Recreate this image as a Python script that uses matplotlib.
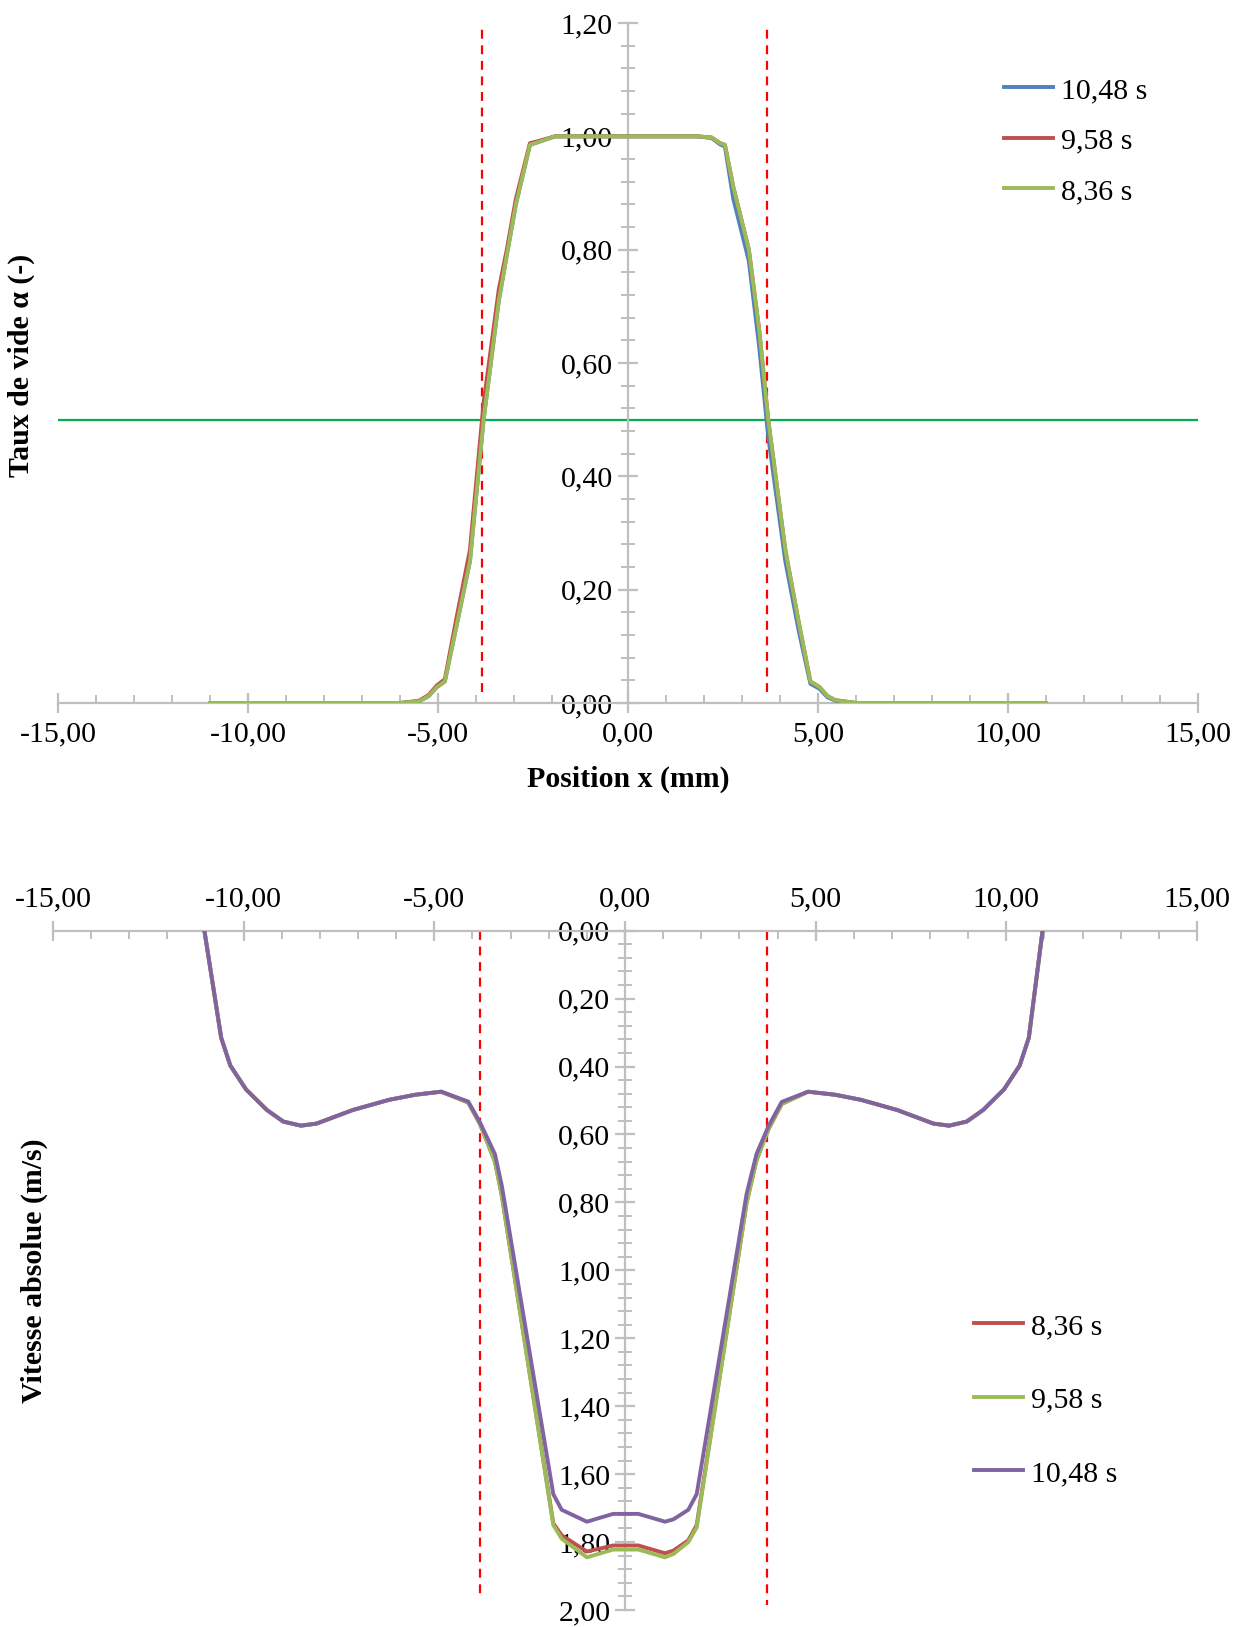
import numpy as np
import matplotlib
matplotlib.use("Agg")
import matplotlib.pyplot as plt
from matplotlib.ticker import MultipleLocator, FuncFormatter

plt.rcParams['font.family'] = ['Liberation Serif', 'DejaVu Serif']
FS = 21.5
plt.rcParams['font.size'] = FS

# --- top chart: void fraction ---
x_top = [-11.0, -6.0, -5.5, -5.25, -5.03, -4.82, -4.5, -4.16, -3.8, -3.4, -3.19, -2.95,
         -2.58, -2.4, -1.92, 1.81, 2.2, 2.42, 2.55, 2.77, 3.18, 3.45, 3.69, 4.14, 4.5,
         4.8, 5.04, 5.25, 5.46, 6.0, 11.0]
alpha_1048 = [0, 0, 0.003, 0.012, 0.028, 0.038, 0.14, 0.25, 0.50, 0.71, 0.79, 0.88,
              0.985, 0.989, 1.0, 1.0, 0.997, 0.986, 0.982, 0.89, 0.78, 0.63, 0.47, 0.25, 0.125,
              0.034, 0.025, 0.010, 0.004, 0, 0]
alpha_958 = [0, 0, 0.004, 0.014, 0.031, 0.042, 0.155, 0.27, 0.53, 0.73, 0.80, 0.89,
             0.988, 0.991, 1.0, 1.0, 0.998, 0.988, 0.985, 0.911, 0.80, 0.66, 0.50, 0.27, 0.14,
             0.038, 0.028, 0.012, 0.005, 0, 0]
alpha_836 = [0, 0, 0.003, 0.012, 0.028, 0.038, 0.14, 0.25, 0.50, 0.71, 0.79, 0.88,
             0.985, 0.989, 1.0, 1.0, 0.998, 0.988, 0.985, 0.911, 0.80, 0.66, 0.50, 0.27, 0.14,
             0.038, 0.028, 0.012, 0.005, 0, 0]

# --- bottom chart: absolute velocity ---
x_bot = [-11.03, -10.59, -10.35, -9.94, -9.39, -8.96, -8.5, -8.09, -7.14, -6.19, -5.5,
         -4.82, -4.11, -3.80, -3.41, -3.23, -1.88, -1.66, -1.0, -0.31, 0.35, 1.05, 1.27,
         1.66, 1.88, 3.19, 3.45, 3.76, 4.11, 4.8, 5.51, 6.19, 7.14, 8.09, 8.5, 8.96, 9.39,
         9.94, 10.35, 10.59, 10.95]
v_836 = [0, 0.315, 0.397, 0.467, 0.528, 0.562, 0.574, 0.568, 0.528, 0.498, 0.483,
         0.474, 0.506, 0.57, 0.68, 0.78, 1.745, 1.78, 1.828, 1.81, 1.81, 1.833, 1.825,
         1.795, 1.75, 0.80, 0.675, 0.585, 0.51, 0.474, 0.483, 0.498, 0.528, 0.568, 0.574,
         0.562, 0.528, 0.467, 0.397, 0.315, 0]
v_958 = [0, 0.315, 0.397, 0.467, 0.528, 0.562, 0.574, 0.568, 0.528, 0.498, 0.483,
         0.474, 0.506, 0.57, 0.68, 0.78, 1.75, 1.79, 1.845, 1.822, 1.822, 1.845, 1.835,
         1.80, 1.757, 0.80, 0.675, 0.585, 0.51, 0.474, 0.483, 0.498, 0.528, 0.568, 0.574,
         0.562, 0.528, 0.467, 0.397, 0.315, 0]
v_1048 = [0, 0.315, 0.397, 0.467, 0.528, 0.562, 0.574, 0.568, 0.528, 0.498, 0.483,
          0.474, 0.503, 0.565, 0.658, 0.751, 1.659, 1.705, 1.740, 1.717, 1.717, 1.740, 1.733,
          1.705, 1.659, 0.774, 0.657, 0.576, 0.504, 0.474, 0.483, 0.498, 0.528, 0.568, 0.574,
          0.562, 0.528, 0.467, 0.397, 0.315, 0]

top_markers = [-3.83, 3.66]
bot_markers = [(-3.79, 1.955), (3.72, 1.985)]

BLUE, RED, GREEN, PURPLE = '#4F81BD', '#C0504D', '#9BBB59', '#8064A2'
GREY = '#BFBFBF'
W, H = 1242, 1627
LW = 2.8

comma = FuncFormatter(lambda v, p: f"{v:.2f}".replace('.', ','))


def style_axes(ax):
    for s in ax.spines.values():
        s.set_color(GREY)
        s.set_linewidth(1.6)
    ax.spines['left'].set_position(('data', 0))
    ax.spines['right'].set_visible(False)
    ax.xaxis.set_major_locator(MultipleLocator(5))
    ax.xaxis.set_minor_locator(MultipleLocator(1))
    ax.yaxis.set_major_locator(MultipleLocator(0.2))
    ax.yaxis.set_minor_locator(MultipleLocator(0.04))
    ax.xaxis.set_major_formatter(comma)
    ax.yaxis.set_major_formatter(comma)
    ax.tick_params(which='major', direction='inout', length=14, width=1.6, color=GREY,
                   labelsize=FS)
    ax.tick_params(axis='x', which='minor', direction='in', length=6, width=1.4, color=GREY)
    ax.tick_params(axis='y', which='minor', direction='inout', length=10, width=1.4, color=GREY)
    ax.set_xlim(-15, 15)
    ax.set_facecolor('none')


fig = plt.figure(figsize=(W / 100, H / 100), dpi=100)

# top axes
ax1 = fig.add_axes([58 / W, 1 - 703 / H, 1140 / W, 680 / H])
style_axes(ax1)
ax1.spines['top'].set_visible(False)
ax1.set_ylim(0, 1.2)
ax1.tick_params(axis='x', which='major', pad=6)
ax1.tick_params(axis='y', which='major', pad=4)
ax1.axhline(0.5, color='#00B050', lw=1.6, zorder=2)
for xm in top_markers:
    ax1.plot([xm, xm], [0.02, 1.19], color='red', lw=1.6, ls=(0, (4, 3)), zorder=2)
ax1.plot(x_top, alpha_1048, color=BLUE, lw=LW, label='10,48 s', zorder=3)
ax1.plot(x_top, alpha_958, color=RED, lw=LW, label='9,58 s', zorder=3)
ax1.plot(x_top, alpha_836, color=GREEN, lw=LW, label='8,36 s', zorder=3)
ax1.legend(loc='upper left', bbox_to_anchor=(1004 / W, 1 - 77 / H),
           bbox_transform=fig.transFigure, frameon=False, handlelength=1.65,
           handletextpad=0.25, labelspacing=0.79, borderpad=0, borderaxespad=0,
           fontsize=FS)
fig.text(628 / W, 1 - 779 / H, 'Position x (mm)', ha='center', va='center',
         fontweight='bold', fontsize=FS)
fig.text(21 / W, 1 - 365 / H, 'Taux de vide α (-)', ha='center', va='center',
         rotation=90, fontweight='bold', fontsize=FS)

# bottom axes
ax2 = fig.add_axes([53 / W, 1 - 1610 / H, 1144 / W, 679.3 / H])
style_axes(ax2)
ax2.spines['bottom'].set_visible(False)
ax2.spines['top'].set_position(('data', 0))
ax2.xaxis.tick_top()
ax2.set_ylim(2.0, 0)
ax2.tick_params(axis='x', which='major', pad=6)
for xm, yend in bot_markers:
    ax2.plot([xm, xm], [0, yend], color='red', lw=1.6, ls=(0, (4, 3)), zorder=2)
ax2.plot(x_bot, v_836, color=RED, lw=LW, label='8,36 s', zorder=3)
ax2.plot(x_bot, v_958, color=GREEN, lw=LW, label='9,58 s', zorder=3)
ax2.plot(x_bot, v_1048, color=PURPLE, lw=LW, label='10,48 s', zorder=3)
ax2.legend(loc='upper left', bbox_to_anchor=(974 / W, 1 - 1313 / H),
           bbox_transform=fig.transFigure, frameon=False, handlelength=1.65,
           handletextpad=0.25, labelspacing=1.56, borderpad=0, borderaxespad=0,
           fontsize=FS)
fig.text(34 / W, 1 - 1271 / H, 'Vitesse absolue (m/s)', ha='center', va='center',
         rotation=90, fontweight='bold', fontsize=FS)

fig.savefig('out.png', dpi=100)
